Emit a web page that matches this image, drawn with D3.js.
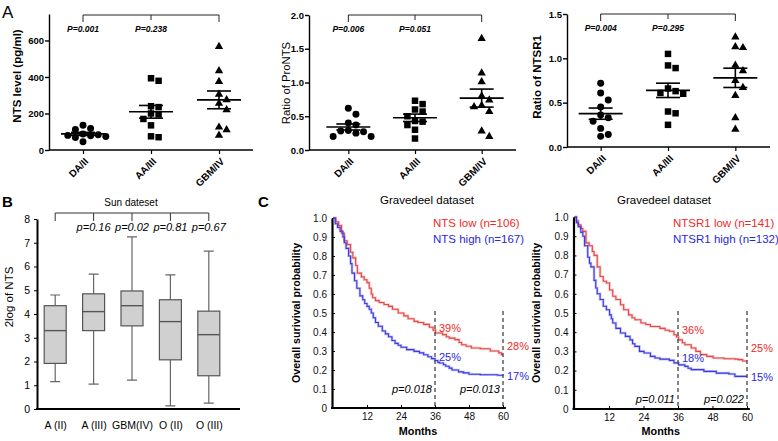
<!DOCTYPE html>
<html><head><meta charset="utf-8">
<script src="https://cdn.jsdelivr.net/npm/d3@7"></script>
<style>body{margin:0;background:#fff} text{font-family:Arial,"Liberation Sans",Helvetica,sans-serif}</style>
</head><body><svg id="c" width="778" height="441"></svg>
<script>
// ---------- DATA ----------
const gradeCats = ["DA/II","AA/III","GBM/IV"];
const ntsLevel = [
  [118,136,112,88,84,80,78,74,68,45],
  [393,379,240,235,200,195,170,135,75,70],
  [567,434,375,305,275,255,220,125,110,80]];
const proNtsRatio = [
  [0.62,0.53,0.40,0.37,0.29,0.28,0.27,0.25,0.20,0.20],
  [0.73,0.68,0.60,0.57,0.50,0.43,0.42,0.37,0.30,0.17],
  [1.65,1.14,1.01,0.80,0.74,0.66,0.64,0.57,0.28,0.20]];
const ntsr1Ratio = [
  [0.72,0.61,0.53,0.45,0.36,0.33,0.29,0.21,0.14,0.12],
  [1.05,0.92,0.89,0.66,0.63,0.61,0.60,0.40,0.38,0.25],
  [1.24,1.13,1.12,0.92,0.86,0.75,0.67,0.58,0.33,0.20]];
const pA1 = ["P=0.001","P=0.238"];
const pA2 = ["P=0.006","P=0.051"];
const pA3 = ["P=0.004","P=0.295"];
const ticksA1 = [0,200,400,600];
const ticksA2 = [0,0.5,1.0,1.5,2.0];
const ticksA3 = [0,0.5,1.0,1.5];

const sunCats = ["A (II)","A (III)","GBM(IV)","O (II)","O (III)"];
const sunMin = [1.15,1.05,1.22,0.13,0.25];
const sunQ1  = [1.92,3.30,3.50,2.07,1.40];
const sunMed = [3.30,4.10,4.35,3.68,3.13];
const sunQ3  = [4.35,4.85,4.97,4.60,4.12];
const sunMax = [4.80,5.68,7.25,5.65,6.65];
const sunP = ["","p=0.16","p=0.02","p=0.81","p=0.67"];
const ticksB = [0,1,2,3,4,5,6,7,8];

const monthTicks = [12,24,36,48,60];
const survTicks = [0,0.1,0.2,0.3,0.4,0.5,0.6,0.7,0.8,0.9,1.0];
const ntsLowKM = [[0,1],[1,0.98],[2,0.96],[3,0.92],[4,0.88],[5,0.86],[6.2,0.82],[7,0.79],[8,0.75],[8.6,0.71],[10,0.69],[11,0.675],[12,0.66],[12.8,0.63],[13.5,0.6],[14,0.58],[15,0.565],[16.3,0.555],[18,0.545],[19.6,0.535],[21,0.52],[23,0.5],[25,0.485],[26.5,0.47],[28.6,0.456],[30,0.45],[32,0.44],[34,0.425],[35.3,0.41],[36.2,0.395],[38.7,0.386],[40,0.375],[41,0.368],[43,0.36],[44.5,0.345],[45.4,0.333],[47,0.325],[48.8,0.316],[52,0.312],[55.5,0.30],[58.5,0.29],[59.5,0.28],[60,0.28]];
const ntsHighKM = [[0,1],[0.8,0.97],[1.6,0.95],[2.5,0.93],[3.5,0.9],[4,0.87],[4.6,0.84],[5.5,0.8],[6.2,0.76],[6.7,0.71],[7.6,0.67],[8.4,0.63],[9.5,0.59],[10.5,0.57],[11.2,0.55],[12,0.535],[12.8,0.52],[13.5,0.5],[14.2,0.475],[15,0.45],[16,0.43],[17.4,0.405],[18.5,0.39],[19.6,0.375],[20.8,0.355],[21.9,0.34],[23,0.33],[24,0.32],[26,0.307],[28.6,0.298],[30.5,0.29],[32,0.28],[33.5,0.27],[34.8,0.26],[36,0.25],[37,0.24],[37.6,0.237],[39,0.228],[39.8,0.22],[41,0.21],[42,0.2],[44.3,0.19],[46,0.185],[48,0.178],[52,0.175],[58,0.172],[60,0.17]];
const ntsr1LowKM = [[0,1],[0.6,0.98],[1.3,0.96],[2.2,0.94],[2.9,0.925],[4,0.865],[5.1,0.85],[6.2,0.82],[6.8,0.8],[7.9,0.74],[8.9,0.69],[10,0.665],[11.1,0.656],[12.2,0.62],[13.3,0.587],[14.4,0.57],[16,0.543],[17.1,0.517],[18.8,0.49],[20,0.475],[21,0.465],[23.1,0.448],[24.8,0.44],[26.4,0.43],[29.7,0.42],[31.5,0.41],[33,0.405],[34.6,0.387],[35.5,0.375],[36.2,0.36],[37.5,0.345],[38.4,0.335],[40.6,0.318],[42.2,0.3],[43.8,0.283],[46,0.274],[48.2,0.266],[52,0.262],[55.8,0.26],[57,0.257],[58.5,0.25],[60,0.25]];
const ntsr1HighKM = [[0,1],[0.7,0.97],[1.3,0.95],[2.2,0.92],[2.9,0.9],[3.5,0.85],[4.6,0.79],[5.2,0.76],[5.7,0.74],[6.8,0.67],[7.4,0.63],[7.9,0.6],[8.9,0.57],[10,0.535],[11.1,0.517],[12.2,0.49],[12.8,0.47],[13.3,0.448],[14.4,0.42],[16,0.396],[17.7,0.378],[19.3,0.36],[20.2,0.34],[21,0.326],[22.6,0.3],[24.2,0.292],[26.4,0.274],[28,0.266],[29.7,0.26],[33,0.253],[34.6,0.24],[36.2,0.23],[38.4,0.222],[39.5,0.212],[40.6,0.205],[45,0.196],[49.3,0.187],[53.7,0.182],[55.8,0.17],[60,0.17]];

// ---------- DRAWING ----------
const svg = d3.select("#c");
const RED = "#f02828", BLUE = "#2828e0";

function txt(g, x, y, s, o = {}) {
  const holder = o.rot ? g.append("g").attr("transform", `translate(${x},${y}) rotate(${o.rot})`) : g;
  return holder.append("text").attr("x", o.rot ? 0 : x).attr("y", o.rot ? 0 : y).text(s)
    .attr("font-size", o.size || 10).attr("font-weight", o.weight || "normal")
    .attr("font-style", o.style || "normal").attr("fill", o.fill || "#000")
    .attr("text-anchor", o.anchor || "start");
}

function beeswarm(vals, y, cx, gap) {
  const order = vals.map((v, i) => i).sort((a, b) => vals[b] - vals[a]);
  const placed = [];
  const out = new Array(vals.length);
  order.forEach(i => {
    const py = y(vals[i]);
    for (let k = 0; k < 20; k++) {
      const off = (k % 2 ? 1 : -1) * Math.ceil(k / 2) * gap;
      const ok = placed.every(p => Math.abs(p[1] - py) >= gap - 0.5 || Math.abs(p[0] - (cx + off)) >= gap - 0.5);
      if (ok) { out[i] = [cx + off, py]; placed.push(out[i]); break; }
    }
  });
  return out;
}

function scatter(c) {
  const g = svg.append("g");
  const x = d3.scalePoint().domain(gradeCats).range(c.xr).padding(0.5);
  const y = d3.scaleLinear().domain(c.dom).range(c.yr);
  const ya = g.append("g").attr("transform", `translate(${c.ax},0)`)
    .call(d3.axisLeft(y).tickValues(c.ticks).tickFormat(c.fmt).tickSize(4).tickPadding(1).tickSizeOuter(0));
  ya.select(".domain").attr("stroke-width", 1.4);
  ya.selectAll(".tick line").attr("stroke-width", 1.4);
  ya.selectAll(".tick text").attr("font-size", 9.5).attr("font-weight", "bold").attr("font-family", null);
  const xa = g.append("g").attr("transform", `translate(0,${c.yr[0]})`)
    .call(d3.axisBottom(x).tickSize(4).tickSizeOuter(0).tickFormat(""));
  xa.select(".domain").attr("d", `M${c.ax},0H${c.xend}`).attr("stroke-width", 1.4);
  xa.selectAll(".tick line").attr("stroke-width", 1.2);
  gradeCats.forEach(cat => txt(g, x(cat) + 6, c.yr[0] + 12, cat, {size: 10, weight: "bold", anchor: "end", rot: -45}));
  // y label
  txt(g, c.lx, c.ly, c.label, {size: c.lsize, weight: c.lweight, anchor: "middle", rot: -90});
  // bracket
  const bx1 = x(gradeCats[0]), bx2 = x(gradeCats[1]), bx3 = x(gradeCats[2]);
  g.append("path").attr("d", `M${bx1},${c.br + 7}V${c.br}H${bx3}V${c.br + 7}M${bx2},${c.br}V${c.br + 5}`)
    .attr("fill", "none").attr("stroke", "#222").attr("stroke-width", 1);
  c.p.forEach((s, i) => txt(g, x(gradeCats[i]), c.py, s, {size: 8.5, weight: "bold", style: "italic", anchor: "middle"}));
  // points
  const syms = [d3.symbol(d3.symbolCircle, 38), d3.symbol(d3.symbolSquare, 42), d3.symbol(d3.symbolTriangle, 30)];
  c.data.forEach((vals, gi) => {
    const cx = x(gradeCats[gi]);
    const pos = beeswarm(vals, y, cx, 7.6);
    g.selectAll(null).data(pos).join("path").attr("d", syms[gi]())
      .attr("transform", d => `translate(${d[0]},${d[1]})`).attr("fill", "#000");
    const m = d3.mean(vals), sem = d3.deviation(vals) / Math.sqrt(vals.length);
    const ln = (x1, y1, x2, y2) => g.append("line").attr("x1", x1).attr("y1", y1).attr("x2", x2).attr("y2", y2).attr("stroke", "#000").attr("stroke-width", 1.6);
    ln(cx - 22, y(m), cx + 22, y(m));
    ln(cx - 12, y(m + sem), cx + 12, y(m + sem));
    ln(cx - 12, y(m - sem), cx + 12, y(m - sem));
    ln(cx, y(m - sem), cx, y(m + sem));
  });
}

scatter({xr: [49, 253], ax: 49, xend: 253, yr: [150, 14], dom: [0, 745], ticks: ticksA1, fmt: d3.format("d"),
  data: ntsLevel, p: pA1, br: 15, py: 32, label: "NTS level (pg/ml)", lsize: 11.5, lweight: "bold", lx: 21, ly: 76});
scatter({xr: [315, 515], ax: 309, xend: 516, yr: [150, 15], dom: [0, 2], ticks: ticksA2, fmt: d3.format(".1f"),
  data: proNtsRatio, p: pA2, br: 15, py: 32, label: "Ratio of ProNTS", lsize: 11.3, lweight: "normal", lx: 290, ly: 83});
scatter({xr: [567, 769], ax: 567, xend: 770, yr: [147, 14], dom: [0, 1.5], ticks: ticksA3, fmt: d3.format(".1f"),
  data: ntsr1Ratio, p: pA3, br: 14, py: 31, label: "Ratio of NTSR1", lsize: 11.5, lweight: "bold", lx: 541, ly: 77});
txt(svg, 2, 18, "A", {size: 17});

// ---------- Panel B ----------
(function () {
  const g = svg.append("g");
  const x = d3.scalePoint().domain(sunCats).range([36, 228]).padding(0.5);
  const y = d3.scaleLinear().domain([0, 8]).range([409, 219]);
  const ya = g.append("g").attr("transform", "translate(37,0)")
    .call(d3.axisLeft(y).tickValues(ticksB).tickSize(3).tickPadding(4).tickSizeOuter(0));
  ya.select(".domain").attr("stroke-width", 2);
  ya.selectAll(".tick text").attr("font-size", 10.5).attr("font-family", null);
  const xa = g.append("g").attr("transform", "translate(0,409)")
    .call(d3.axisBottom(x).tickSize(0).tickPadding(13).tickSizeOuter(0));
  xa.select(".domain").attr("d", "M36,0H240").attr("stroke-width", 2);
  xa.selectAll(".tick text").attr("font-size", 10.5).attr("font-family", null);
  txt(g, 13, 297, "2log of NTS", {size: 11.5, anchor: "middle", rot: -90});
  sunCats.forEach((cat, i) => {
    const cx = x(cat), w = 22;
    g.append("path").attr("d", `M${cx},${y(sunMin[i])}V${y(sunQ1[i])}M${cx},${y(sunQ3[i])}V${y(sunMax[i])}M${cx - 5},${y(sunMin[i])}H${cx + 5}M${cx - 5},${y(sunMax[i])}H${cx + 5}`)
      .attr("stroke", "#666").attr("stroke-width", 1.2).attr("fill", "none");
    g.append("rect").attr("x", cx - w / 2).attr("width", w).attr("y", y(sunQ3[i])).attr("height", y(sunQ1[i]) - y(sunQ3[i]))
      .attr("fill", "#d0d0d0").attr("stroke", "#555").attr("stroke-width", 1.2);
    g.append("line").attr("x1", cx - w / 2).attr("x2", cx + w / 2).attr("y1", y(sunMed[i])).attr("y2", y(sunMed[i]))
      .attr("stroke", "#555").attr("stroke-width", 1.4);
    if (sunP[i]) txt(g, cx, 231, sunP[i], {size: 11, style: "italic", anchor: "middle"});
  });
  const xs = sunCats.map(c => x(c));
  let d = `M${xs[0]},213H${xs[xs.length - 1]}`;
  xs.forEach(v => d += `M${v},213V221`);
  g.append("path").attr("d", d).attr("stroke", "#333").attr("stroke-width", 1).attr("fill", "none");
  txt(g, 131, 206, "Sun dateset", {size: 10, anchor: "middle"});
  txt(g, 2, 207, "B", {size: 15, weight: "bold"});
})();

// ---------- Panel C ----------
function km(c) {
  const g = svg.append("g");
  const x = d3.scaleLinear().domain([0, 60]).range(c.xr);
  const y = d3.scaleLinear().domain([0, 1]).range(c.yr);
  const ya = g.append("g").attr("transform", `translate(${x(0) - 1},0)`)
    .call(d3.axisLeft(y).tickValues(survTicks).tickFormat(d => d === 0 ? "0" : d3.format(".1f")(d)).tickSize(-3).tickPadding(5).tickSizeOuter(0));
  ya.select(".domain").attr("stroke-width", 2.2);
  ya.selectAll(".tick text").attr("font-size", 10).attr("font-family", null).attr("fill", "#111");
  const xa = g.append("g").attr("transform", `translate(0,${y(0)})`)
    .call(d3.axisBottom(x).tickValues(monthTicks).tickSize(-3).tickPadding(5).tickSizeOuter(0));
  xa.select(".domain").attr("d", `M${x(0) - 2},0H${x(61)}`).attr("stroke-width", 2.2);
  xa.selectAll(".tick text").attr("font-size", 10).attr("font-family", null).attr("fill", "#111");
  txt(g, c.lx, 313, "Overall surivival probability", {size: 10.7, weight: "bold", anchor: "middle", rot: -90});
  txt(g, (x(0) + x(60)) / 2, 435, "Months", {size: 10.8, weight: "bold", anchor: "middle"});
  txt(g, c.tx, 204, "Gravedeel dataset", {size: 11.5, anchor: "middle"});
  const line = d3.line().x(d => x(d[0])).y(d => y(d[1])).curve(d3.curveStepAfter);
  [[c.low, "#e64848"], [c.high, "#3a3ae0"]].forEach(([dat, col]) => {
    g.append("path").attr("d", line(dat)).attr("fill", "none").attr("stroke", col).attr("stroke-opacity", 0.3).attr("stroke-width", 2.6);
    g.append("path").attr("d", line(dat)).attr("fill", "none").attr("stroke", col).attr("stroke-width", 1.1);
  });
  [36, 60].forEach(m => g.append("line").attr("x1", x(m)).attr("x2", x(m)).attr("y1", y(0.51)).attr("y2", y(0))
    .attr("stroke", "#444").attr("stroke-width", 1.3).attr("stroke-dasharray", "4,3"));
  txt(g, c.legx, 227, c.names[0], {size: 11.5, fill: RED});
  txt(g, c.legx, 243, c.names[1], {size: 11.5, fill: BLUE});
  const L = c.labels;
  txt(g, x(36) + 4, L[0], c.pct[0], {size: 11, fill: RED});
  txt(g, x(36) + 4, L[1], c.pct[1], {size: 11, fill: BLUE});
  txt(g, x(60) + 4, L[2], c.pct[2], {size: 11, fill: RED});
  txt(g, x(60) + 4, L[3], c.pct[3], {size: 11, fill: BLUE});
  txt(g, x(36) - 3, c.py, c.p[0], {size: 11, style: "italic", anchor: "end"});
  txt(g, x(60) - 3, c.py, c.p[1], {size: 11, style: "italic", anchor: "end"});
}
km({xr: [333, 503], yr: [408, 218], low: ntsLowKM, high: ntsHighKM, lx: 300, tx: 427, legx: 433,
  names: ["NTS low (n=106)", "NTS high (n=167)"], pct: ["39%", "25%", "28%", "17%"], labels: [332, 361, 350, 380],
  p: ["p=0.018", "p=0.013"], py: 393});
km({xr: [574.5, 747], yr: [409, 217], low: ntsr1LowKM, high: ntsr1HighKM, lx: 540, tx: 664, legx: 673,
  names: ["NTSR1 low (n=141)", "NTSR1 high (n=132)"], pct: ["36%", "18%", "25%", "15%"], labels: [334, 362, 352, 381],
  p: ["p=0.011", "p=0.022"], py: 403});
txt(svg, 258, 207, "C", {size: 15, weight: "bold"});
</script></body></html>
